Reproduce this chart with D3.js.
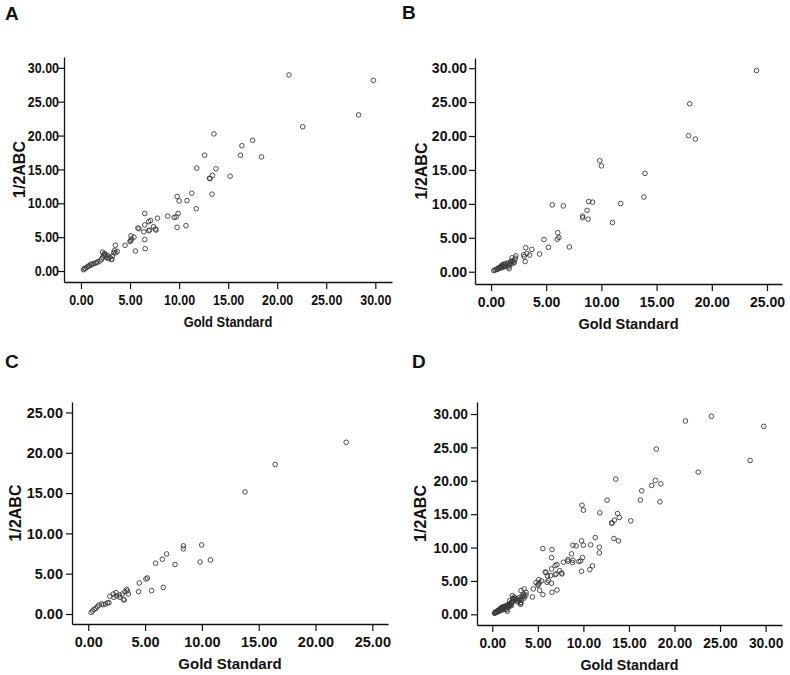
<!DOCTYPE html>
<html>
<head>
<meta charset="utf-8">
<script src="https://cdn.jsdelivr.net/npm/d3@7"></script>
<style>
  html, body { margin: 0; padding: 0; background: #fff; }
  svg { display: block; }
  text { font-family: "Liberation Sans", Arial, sans-serif; }
</style>
</head>
<body>
<svg id="chart" width="790" height="675"></svg>
<script>
// ---------------- data ----------------
// Panel A: [Gold Standard, 1/2ABC]
const dataA = [
  [0.25,0.2],[0.35,0.35],[0.45,0.4],[0.6,0.55],[0.75,0.7],[0.85,0.8],[1.0,1.0],[1.1,0.9],
  [1.25,1.1],[1.45,1.15],[1.6,1.25],[1.7,1.35],[1.95,1.5],[2.1,1.75],[2.2,2.0],[2.3,2.35],
  [2.2,2.8],[2.4,2.6],[2.45,2.2],[2.6,2.0],[2.8,1.85],[2.95,2.05],[3.1,1.7],[3.15,1.75],
  [3.2,2.2],[3.35,2.7],[3.4,3.0],[3.55,2.7],[3.7,2.9],[3.5,3.8],[2.5,2.4],[2.7,2.3],
  [4.5,3.8],[5.0,4.35],[5.05,4.5],[5.15,4.7],[5.1,5.2],[5.4,5.0],[5.55,2.95],[6.55,3.3],
  [6.5,4.65],[6.5,8.5],[6.5,6.8],[5.8,6.35],[5.9,6.25],[6.4,5.8],[6.9,5.95],[7.0,6.05],
  [6.9,7.3],[7.1,7.45],[7.4,6.55],[7.6,6.2],[7.65,6.05],[7.8,7.8],[8.85,8.1],[9.5,7.9],
  [9.7,8.0],[9.9,8.5],[9.8,6.45],[10.7,6.7],[9.8,11.0],[10.0,10.35],[10.8,10.4],[11.3,11.5],
  [11.75,9.2],[13.35,11.35],[11.8,15.2],[12.6,17.1],[13.1,13.7],[13.15,13.65],[13.4,14.1],
  [13.75,15.1],[13.55,20.25],[15.2,14.0],[16.25,17.1],[16.4,18.5],[17.5,19.3],[18.4,16.85],
  [21.2,28.95],[22.6,21.3],[28.3,23.05],[29.8,28.15]
];
// Panel B
const dataB = [
  [0.25,0.15],[0.35,0.25],[0.45,0.3],[0.55,0.35],[0.6,0.5],[0.7,0.45],[0.75,0.6],[0.85,0.7],
  [0.9,0.55],[0.95,0.85],[1.0,1.0],[1.05,0.8],[1.1,0.65],[1.15,1.1],[1.25,0.9],[1.3,1.2],
  [1.65,0.45],[1.4,0.75],[1.5,1.05],[1.55,1.3],[1.6,0.7],[1.65,1.0],[1.75,1.3],[1.8,1.5],
  [1.85,1.15],[1.9,2.05],[1.95,1.6],[2.05,1.45],[2.15,1.75],[2.2,2.0],[2.25,2.35],[2.1,1.3],
  [3.1,1.5],[2.95,2.5],[3.0,2.2],[3.25,2.7],[3.5,2.45],[3.15,3.55],[3.7,3.3],[4.4,2.6],
  [4.8,4.75],[5.2,3.6],[6.0,4.8],[6.15,5.05],[6.05,5.75],[7.1,3.65],[5.55,9.85],[6.55,9.7],
  [8.3,8.2],[8.3,7.95],[8.8,7.75],[8.7,9.05],[8.85,10.35],[9.2,10.25],[11.0,7.25],[11.75,10.05],
  [9.85,16.35],[10.0,15.6],[13.85,11.0],[13.95,14.5],[17.9,20.05],[18.5,19.55],[18.0,24.75],
  [24.05,29.65]
];
// Panel C
const dataC = [
  [0.25,0.2],[0.38,0.4],[0.53,0.58],[0.67,0.7],[0.79,0.9],[0.94,1.1],[1.17,1.25],[1.32,1.15],
  [1.52,1.25],[1.7,1.4],[1.82,1.4],[1.9,2.2],[2.2,2.48],[2.44,2.65],[2.5,2.24],[2.26,2.07],
  [2.73,2.36],[2.79,2.07],[3.0,2.48],[3.08,1.82],[3.17,1.74],[3.23,2.77],[3.38,3.06],[3.44,2.86],
  [3.53,2.48],[4.49,3.85],[4.43,2.77],[5.08,4.35],[5.2,4.47],[5.58,2.9],[6.6,3.3],[5.93,6.3],
  [6.52,6.79],[6.9,7.45],[7.64,6.15],[8.37,8.45],[8.37,8.09],[9.98,8.57],[9.84,6.45],[10.75,6.7],
  [13.8,15.15],[16.45,18.55],[22.7,21.3]
];
// Panel D: all cases of A and B together
const dataD = dataA.concat(dataB);

const panels = [
  { id: "A", data: dataA, xTicks: [0,5,10,15,20,25,30], yTicks: [0,5,10,15,20,25,30],
    left: 64, right: 392, top: 57, bottom: 282, xDom: [-1.73, 31.7], yDom: [-1.62, 31.6],
    letter: [5, 20], titleX: 25, sx: 0.86, yGap: 5 },
  { id: "B", data: dataB, xTicks: [0,5,10,15,20,25], yTicks: [0,5,10,15,20,25,30],
    left: 475, right: 782, top: 58, bottom: 284, xDom: [-1.45, 26.36], yDom: [-1.81, 31.5],
    letter: [402, 19], titleX: 427, sx: 0.97, yGap: 8 },
  { id: "C", data: dataC, xTicks: [0,5,10,15,20,25], yTicks: [0,5,10,15,20,25],
    left: 72, right: 388, top: 402, bottom: 624, xDom: [-1.43, 26.38], yDom: [-1.24, 26.3],
    letter: [5, 368], titleX: 21, sx: 1.0, yGap: 9 },
  { id: "D", data: dataD, xTicks: [0,5,10,15,20,25,30], yTicks: [0,5,10,15,20,25,30],
    left: 477, right: 782, top: 402, bottom: 625, xDom: [-1.68, 31.8], yDom: [-1.6, 31.8],
    letter: [412, 368], titleX: 426, sx: 0.95, yGap: 9 }
];

const xTitle = "Gold Standard";
const yTitle = "1/2ABC";

const svg = d3.select("#chart");
const fmt = d3.format(".2f");

panels.forEach(p => {
  const x = d3.scaleLinear().domain(p.xDom).range([p.left, p.right]);
  const y = d3.scaleLinear().domain(p.yDom).range([p.bottom, p.top]);
  const g = svg.append("g");

  // panel letter
  g.append("text").attr("x", p.letter[0]).attr("y", p.letter[1])
    .attr("font-size", 19).attr("font-weight", "bold").attr("fill", "#111")
    .text(p.id);

  // axes
  const xAxis = d3.axisBottom(x).tickValues(p.xTicks).tickFormat(fmt)
    .tickSizeInner(7).tickSizeOuter(0).tickPadding(6);
  const yAxis = d3.axisLeft(y).tickValues(p.yTicks).tickFormat(fmt)
    .tickSizeInner(6).tickSizeOuter(0).tickPadding(2);

  const gx = g.append("g").attr("transform", `translate(0,${p.bottom})`).call(xAxis);
  const gy = g.append("g").attr("transform", `translate(${p.left},0)`).call(yAxis);
  [gx, gy].forEach(a => {
    a.select(".domain").attr("stroke", "#111").attr("stroke-width", 1.3);
    a.selectAll(".tick line").attr("stroke", "#111").attr("stroke-width", 1.2);
    a.selectAll(".tick text").attr("font-size", 14.5).attr("font-weight", "bold")
      .attr("fill", "#111").attr("font-family", "'Liberation Sans', Arial, sans-serif")
      .attr("transform", `scale(${p.sx},1)`);
  });
  gy.selectAll(".tick text").attr("x", -p.yGap / p.sx);

  // axis titles
  g.append("text")
    .attr("transform", `translate(${(p.left + p.right) / 2},${p.bottom + 45}) scale(${p.sx},1)`)
    .attr("text-anchor", "middle").attr("font-size", 15).attr("font-weight", "bold")
    .attr("fill", "#111").text(xTitle);
  g.append("text")
    .attr("transform", `translate(${p.titleX},${(p.top + p.bottom) / 2}) rotate(-90)`)
    .attr("text-anchor", "middle").attr("font-size", 16).attr("font-weight", "bold")
    .attr("fill", "#111").text(yTitle);

  // points
  g.append("g").selectAll("circle").data(p.data).join("circle")
    .attr("cx", d => x(d[0])).attr("cy", d => y(d[1])).attr("r", 2.3)
    .attr("fill", "none").attr("stroke", "#3a3a3a").attr("stroke-width", 0.9);
});
</script>
</body>
</html>
